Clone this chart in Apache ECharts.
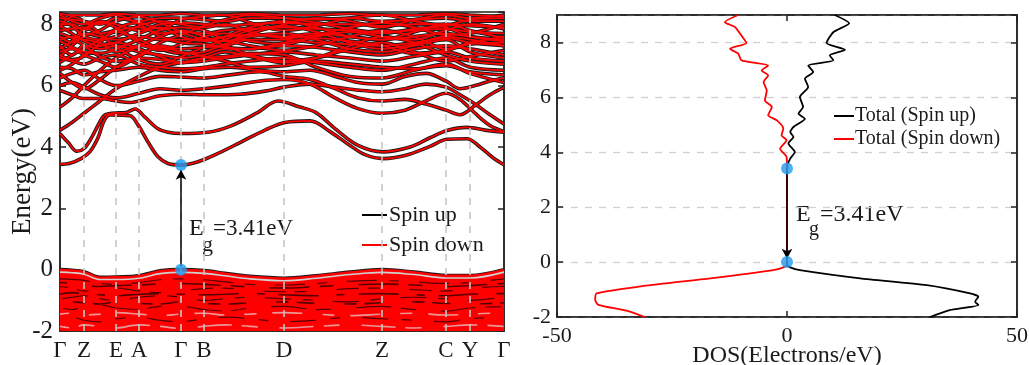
<!DOCTYPE html>
<html><head><meta charset="utf-8">
<script src="https://cdn.jsdelivr.net/npm/echarts@6/dist/echarts.min.js"></script>
<style>html,body{margin:0;padding:0;background:#fff}#c{width:1029px;height:365px}</style>
</head><body><div id="c"></div>
<script>
// High-symmetry path (k distance) and labels
const kPos = [0,24,56,79,121,144,224,322,386,410,444];
const kLabels = ['Γ','Z','E','A','Γ','B','D','Z','C','Y','Γ'];
const kGrid = [0,12,24,40,56,79,100,121,144,165,190,224,256,290,322,354,386,410,444];

// Lower conduction bands [k, E]
const bandC1 = [[0,3.43],[10,3.47],[21,3.62],[30,3.85],[38,4.3],[44,4.85],[50,5.04],[70,5.02],[78,4.72],[88,4.16],[98,3.68],[108,3.46],[121,3.41],[138,3.52],[158,3.79],[181,4.16],[205,4.55],[225,4.8],[250,4.85],[270,4.5],[290,4.05],[305,3.75],[323,3.62],[345,3.72],[370,4.02],[387,4.25],[407,4.27],[420,4.0],[433,3.65],[444,3.42]];
const bandC2 = [[0,4.43],[8,4.15],[17,3.86],[24,3.95],[31,4.27],[38,4.7],[44,5.02],[52,5.1],[66,5.12],[75,5.24],[85,4.97],[98,4.59],[108,4.48],[121,4.44],[148,4.48],[171,4.69],[198,5.13],[218,5.5],[240,5.3],[256,5.12],[275,4.6],[298,4.05],[323,3.84],[350,4.0],[370,4.3],[387,4.54],[407,4.64],[425,4.55],[444,4.48]];
const bandC3 = [[0,5.84],[12,5.7],[23,5.58],[40,5.58],[56,5.5],[70,5.45],[85,5.55],[100,5.67],[121,5.72],[150,5.7],[180,5.72],[205,5.82],[224,5.95],[250,6.05],[275,5.95],[300,5.85],[322,5.8],[345,5.9],[366,6.05],[386,5.95],[400,5.7],[415,5.4],[430,5.05],[444,4.75]];
const bandC4 = [[0,6.0],[12,6.1],[24,5.95],[40,5.7],[56,5.6],[79,5.75],[100,5.9],[121,5.85],[144,5.9],[170,6.0],[200,6.15],[224,6.2],[250,6.05],[275,5.6],[298,5.25],[322,5.1],[345,5.2],[366,5.5],[386,5.75],[400,5.55],[415,5.1],[430,4.7],[444,4.5]];
const bandC5 = [[0,6.25],[12,6.4],[24,6.5],[40,6.2],[56,6.0],[79,6.15],[100,6.3],[121,6.28],[144,6.25],[170,6.35],[200,6.45],[224,6.3],[250,6.2],[275,5.9],[298,5.6],[322,5.5],[345,5.55],[366,5.4],[386,5.2],[400,5.05],[415,5.35],[430,5.7],[444,5.94]];
const bandC6 = [[0,6.6],[12,6.55],[24,6.35],[40,6.45],[56,6.5],[79,6.6],[100,6.5],[121,6.45],[144,6.55],[170,6.6],[200,6.5],[224,6.45],[250,6.5],[275,6.3],[298,6.1],[322,6.05],[345,6.3],[366,6.4],[386,6.15],[400,5.9],[415,6.0],[430,6.15],[444,6.25]];

// Upper conduction bands, energies on kGrid
const bandD1 = [6.9,6.8,6.7,6.9,7.0,6.7,6.6,6.55,6.6,6.7,6.8,6.9,6.75,6.6,6.5,6.7,6.9,6.6,6.5];
const bandD2 = [7.1,7.2,7.0,6.8,6.6,6.9,6.85,6.75,6.8,6.9,7.0,7.1,7.0,6.9,6.8,6.95,7.1,6.9,6.8];
const bandD3 = [7.3,7.0,7.3,7.2,7.3,7.1,7.0,6.9,7.0,7.2,7.2,7.3,7.25,7.1,7.0,7.2,7.3,7.2,7.0];
const bandD4 = [7.5,7.6,7.5,7.4,7.1,7.3,7.3,7.2,7.25,7.3,7.5,7.5,7.4,7.35,7.3,7.4,7.55,7.4,7.3];
const bandD5 = [7.6,7.4,7.7,7.6,7.5,7.6,7.5,7.5,7.5,7.6,7.65,7.6,7.7,7.6,7.5,7.6,7.7,7.6,7.5];
const bandD6 = [7.8,7.85,7.9,7.7,7.8,7.9,7.7,7.75,7.7,7.8,7.85,7.9,7.85,7.8,7.75,7.8,7.85,7.75,7.7];
const bandD7 = [8.0,8.0,7.8,8.1,8.0,7.8,8.0,8.05,8.0,7.95,8.0,8.05,8.0,8.0,7.95,8.0,8.0,7.95,7.9];
const bandD8 = [8.2,8.15,8.1,8.0,8.2,8.1,8.2,8.2,8.15,8.1,8.2,8.2,8.15,8.2,8.1,8.15,8.2,8.1,8.1];
const bandD9 = [8.35,8.3,8.3,8.3,8.35,8.3,8.3,8.35,8.3,8.3,8.35,8.3,8.3,8.35,8.3,8.3,8.35,8.3,8.25];
const bandD10 = [6.75,7.0,7.2,7.5,7.75,7.5,7.2,7.05,7.1,7.35,7.6,7.7,7.5,7.2,7.1,7.3,7.5,7.1,6.9];
const bandD11 = [7.45,7.25,7.1,7.05,7.2,7.5,7.8,7.9,7.8,7.5,7.3,7.15,7.3,7.6,7.8,7.6,7.2,7.4,7.6];
const bandD12 = [7.95,7.7,7.45,7.3,7.4,7.7,7.9,7.6,7.45,7.6,7.9,8.1,7.9,7.6,7.5,7.75,8.0,7.8,7.55];
const bandD13 = [6.5,6.7,7.0,7.3,7.4,7.2,6.95,6.75,6.9,7.1,6.95,6.75,6.9,7.3,7.6,7.4,7.0,6.8,6.7];
const bandD14 = [8.1,7.95,7.6,7.5,7.6,7.95,8.1,8.0,7.9,8.0,7.75,7.55,7.65,7.9,8.05,7.9,7.65,7.7,8.0];
const bandD15 = [7.2,7.45,7.85,8.05,7.9,7.4,7.15,7.35,7.6,7.7,7.45,7.35,7.6,7.75,7.6,7.5,7.8,8.0,7.85];
const bandD16 = [6.95,7.3,7.6,7.8,8.1,8.25,8.05,7.75,7.5,7.45,7.7,8.0,8.2,8.1,7.9,8.15,8.3,8.2,8.3];
const bandD17 = [8.3,8.1,8.0,8.2,8.3,8.0,7.6,7.4,7.35,7.25,7.2,7.4,7.55,7.45,7.3,7.05,7.15,7.35,7.4];
const bandD18 = [7.7,7.55,7.3,6.95,6.8,6.95,7.4,7.65,7.95,8.15,8.3,8.2,8.05,7.85,7.7,7.85,7.95,8.15,8.2];
const bandD19 = [5.3,5.6,6.0,6.5,6.9,7.3,7.6,7.8,7.6,7.3,7.0,6.8,6.9,7.2,7.4,7.1,6.8,6.95,7.15];
const bandD20 = [6.4,6.1,5.9,6.2,6.6,7.0,7.25,7.1,6.95,6.8,6.6,6.65,6.8,6.7,6.6,6.55,6.65,6.45,6.35];
const bandD21 = [7.9,8.25,8.1,7.7,7.25,6.85,6.7,6.95,7.25,7.5,7.8,7.95,7.75,7.4,7.2,7.35,7.6,7.5,7.3];
const bandD22 = [7.0,6.85,6.95,7.4,7.85,8.05,7.85,8.15,8.25,8.3,8.05,7.8,7.95,8.2,8.3,8.1,7.9,7.6,7.45];
const bandD23 = [4.55,4.8,5.1,5.5,5.9,6.3,6.6,6.75,6.9,6.95,7.05,7.0,6.6,6.3,6.25,6.5,6.7,6.4,6.1];

// Valence bands on kGrid
const vbTop = [0.0,-0.02,-0.07,-0.25,-0.24,-0.2,-0.04,0.0,-0.03,-0.12,-0.22,-0.28,-0.2,-0.08,0.0,-0.08,-0.19,-0.19,0.0];
const vb2 = [-0.08,-0.1,-0.15,-0.32,-0.32,-0.28,-0.13,-0.09,-0.12,-0.2,-0.3,-0.36,-0.28,-0.16,-0.09,-0.16,-0.27,-0.27,-0.08];
const vb3 = [-0.3,-0.32,-0.35,-0.45,-0.48,-0.42,-0.33,-0.3,-0.33,-0.4,-0.48,-0.5,-0.45,-0.38,-0.35,-0.4,-0.45,-0.42,-0.3];
const vb4 = [-0.55,-0.6,-0.7,-0.65,-0.6,-0.7,-0.75,-0.7,-0.62,-0.6,-0.68,-0.72,-0.7,-0.62,-0.6,-0.65,-0.7,-0.6,-0.55];
const vb5 = [-0.95,-0.9,-0.85,-0.95,-1.0,-0.9,-0.85,-0.9,-1.0,-0.95,-0.9,-0.95,-1.0,-1.05,-0.95,-0.9,-0.95,-1.0,-0.9];
const vb6 = [-1.25,-1.3,-1.2,-1.15,-1.25,-1.3,-1.2,-1.2,-1.3,-1.35,-1.25,-1.2,-1.3,-1.25,-1.2,-1.3,-1.35,-1.25,-1.2];
const vb7 = [-1.6,-1.55,-1.65,-1.7,-1.6,-1.55,-1.65,-1.7,-1.6,-1.55,-1.6,-1.7,-1.65,-1.55,-1.6,-1.65,-1.7,-1.6,-1.55];
const vb8 = [-1.85,-1.9,-1.8,-1.85,-1.9,-1.8,-1.85,-1.92,-1.85,-1.8,-1.85,-1.9,-1.85,-1.8,-1.85,-1.9,-1.85,-1.8,-1.85];
const vb9 = [-0.42,-0.45,-0.5,-0.55,-0.52,-0.5,-0.47,-0.45,-0.48,-0.52,-0.56,-0.6,-0.55,-0.5,-0.47,-0.5,-0.55,-0.52,-0.45];
const vb10 = [-0.8,-0.75,-0.78,-0.82,-0.85,-0.8,-0.78,-0.8,-0.82,-0.8,-0.78,-0.82,-0.85,-0.8,-0.78,-0.82,-0.85,-0.8,-0.78];
const vb11 = [-1.1,-1.05,-1.08,-1.12,-1.05,-1.1,-1.12,-1.05,-1.1,-1.12,-1.08,-1.05,-1.1,-1.12,-1.08,-1.05,-1.1,-1.12,-1.08];
const vb12 = [-1.45,-1.42,-1.48,-1.45,-1.4,-1.45,-1.5,-1.45,-1.42,-1.48,-1.45,-1.4,-1.45,-1.5,-1.45,-1.42,-1.48,-1.45,-1.4];

// DOS (energy, states/eV)
const dosUpE = [-2.0,-1.75,-1.56,-1.44,-1.26,-1.14,-0.84,-0.59,-0.29,-0.19,-0.1,3.47,3.77,4.01,4.32,4.56,4.74,4.92,5.22,5.41,5.65,6.01,6.38,6.68,6.92,7.16,7.35,7.53,7.73,7.98,8.38,8.70,9.0];
const dosUpV = [31.1,35.4,41.6,40.9,41.6,39.8,30.4,15.9,2.8,0.7,0,0,0.7,1.7,0.3,1.4,0.7,1.4,3.9,2.5,3.5,2.8,4.6,3.9,5.7,4.6,10.1,9.3,12.6,8.6,10.1,13.5,10.4];
const dosDnE = [-2.0,-1.77,-1.56,-1.38,-1.14,-0.87,-0.59,-0.29,-0.19,-0.1,3.47,3.83,4.13,4.44,4.62,4.86,5.16,5.35,5.65,5.89,6.25,6.56,6.80,6.98,7.16,7.35,7.59,7.77,7.98,8.25,8.56,8.74,9.0];
const dosDnV = [-30.9,-34.9,-41.0,-41.7,-41.4,-31.2,-16.7,-3.0,-0.8,0,0,-0.1,-1.5,-0.1,-1.2,-0.8,-2.2,-4.1,-3.3,-4.8,-4.4,-5.1,-4.1,-5.5,-4.1,-9.9,-10.6,-12.4,-8.8,-9.9,-11.3,-13.5,-10.6];

const gapVBM = 0.0, gapCBM = 3.41, gapK = 121;

const FONT = 'Liberation Serif';
const chart = echarts.init(document.getElementById('c'));

const lowBands = [bandC1,bandC2,bandC3,bandC4,bandC5,bandC6];
const gridBands = [bandD1,bandD2,bandD3,bandD4,bandD5,bandD6,bandD7,bandD8,bandD9,bandD10,bandD11,bandD12,bandD13,bandD14,bandD15,bandD16,bandD17,bandD18,bandD19,bandD20,bandD21,bandD22,bandD23];
const toPairs = v => v.map((e,i)=>[kGrid[i],e]);
const allBands = lowBands.concat(gridBands.map(toPairs));

const series = [];
// dashed vertical separators
series.push({type:'line', xAxisIndex:0, yAxisIndex:0, data:[[0,-10]], symbol:'none', silent:true, z:1,
  markLine:{silent:true, symbol:'none', label:{show:false},
    lineStyle:{color:'#c8c8c8', type:[7,7], width:1.6},
    data: kPos.slice(1,-1).map(v=>({xAxis:v}))}});
// spin up (black, under)
allBands.forEach(b=>series.push({type:'line', name:'Spin up', xAxisIndex:0, yAxisIndex:0, data:b, smooth:0.35,
  symbol:'none', color:'#000', lineStyle:{color:'#1a1a1a', width:3.6}, z:2, silent:true}));
series.push({type:'line', name:'Spin up', xAxisIndex:0, yAxisIndex:0, data:toPairs(vbTop), smooth:0.35,
  symbol:'none', color:'#000', lineStyle:{color:'#1a1a1a', width:3.6}, z:2, silent:true});
// spin down (red, over)
allBands.forEach(b=>series.push({type:'line', name:'Spin down', xAxisIndex:0, yAxisIndex:0, data:b, smooth:0.35,
  symbol:'none', color:'#ff0000', lineStyle:{color:'#ff0000', width:1.8}, z:3, silent:true}));
series.push({type:'line', name:'Spin down', xAxisIndex:0, yAxisIndex:0, data:toPairs(vbTop), smooth:0.35,
  symbol:'none', color:'#ff0000', lineStyle:{color:'#ff0000', width:1.8},
  areaStyle:{color:'#ff0000', opacity:1, origin:'start'}, z:3, silent:true});
// valence streaks (broken dark / light fragments)
series.push({type:'line', xAxisIndex:0, yAxisIndex:0, data:toPairs(vb2), smooth:0.35, symbol:'none',
  lineStyle:{color:'#d0d0d0', width:1.6}, z:4, silent:true});
const darkVB = [vb3,vb9,vb4,vb10,vb5,vb11,vb6,vb12,vb7,vb8];
const dashes = [[30,12,10,20],[14,25,40,10],[22,9,12,30],[40,18,8,14],[10,20,26,12],[18,30,12,8],[35,10,15,25],[12,16,30,20],[26,14,10,22],[16,22,34,10]];
darkVB.forEach((v,i)=>series.push({type:'line', xAxisIndex:0, yAxisIndex:0, data:toPairs(v), smooth:0.35,
  symbol:'none', lineStyle:{color: i===7||i===9 ? '#e8b0b0' : '#3a0000', width: i%2 ? 1.6 : 1.2, opacity:0.85,
  type:dashes[i], dashOffset:i*7}, z:4, silent:true}));
// gap markers left
series.push({type:'scatter', xAxisIndex:0, yAxisIndex:0, data:[[gapK,gapVBM],[gapK,gapCBM]], symbolSize:12,
  itemStyle:{color:'#1e9cf0'}, z:10, silent:true,
  markLine:{silent:true, symbol:['none','arrow'], symbolSize:[8,10], label:{show:false},
    lineStyle:{color:'#000', type:'solid', width:1.5},
    data:[[{coord:[gapK,gapVBM+0.1]},{coord:[gapK,gapCBM-0.15]}]]}});

// DOS
series.push({type:'line', name:'Total (Spin up)', xAxisIndex:1, yAxisIndex:2,
  data:dosUpE.map((e,i)=>[dosUpV[i],e]), smooth:0.2, symbol:'none', color:'#000',
  lineStyle:{color:'#000', width:1.8}, z:3, silent:true});
series.push({type:'line', name:'Total (Spin down)', xAxisIndex:1, yAxisIndex:2,
  data:dosDnE.map((e,i)=>[dosDnV[i],e]), smooth:0.2, symbol:'none', color:'#ff0000',
  lineStyle:{color:'#ff0000', width:1.8}, z:3, silent:true});
series.push({type:'scatter', xAxisIndex:1, yAxisIndex:2, data:[[0,gapVBM],[0,gapCBM]], symbolSize:12,
  itemStyle:{color:'#1e9cf0'}, z:10, silent:true,
  markLine:{silent:true, symbol:['none','arrow'], symbolSize:[8,10], label:{show:false},
    lineStyle:{color:'#000', type:'solid', width:1.5},
    data:[[{coord:[0,gapCBM-0.1]},{coord:[0,gapVBM+0.12]}]]}});

const lbl = (size, extra) => Object.assign({color:'#1a1a1a', fontFamily:FONT, fontSize:size}, extra||{});
const line = {show:true, onZero:false, lineStyle:{color:'#222', width:1.5}};
const tick = {inside:true, length:6, lineStyle:{color:'#222', width:1.5}};

chart.setOption({
  animation:false,
  grid:[
    {left:60, top:12, width:444, height:319, show:true, borderColor:'#222', borderWidth:1.5, backgroundColor:'transparent', outerBoundsMode:'none', containLabel:false},
    {left:557, top:15, width:460, height:302, show:true, borderColor:'#222', borderWidth:1.5, backgroundColor:'transparent', outerBoundsMode:'none', containLabel:false}
  ],
  xAxis:[
    {gridIndex:0, type:'value', min:0, max:444, axisLine:line, axisTick:{show:false}, splitLine:{show:false},
      axisLabel:Object.assign(lbl(23), {customValues:kPos, hideOverlap:false, margin:8,
        formatter:v=>kLabels[kPos.indexOf(v)]})},
    {gridIndex:1, type:'value', min:-50, max:50, interval:50, axisLine:line, axisTick:tick, splitLine:{show:false},
      axisLabel:lbl(22, {margin:8}),
      name:'DOS(Electrons/eV)', nameLocation:'middle', nameGap:27, nameMoveOverlap:false, nameTextStyle:lbl(24)},
    {gridIndex:1, type:'value', position:'top', min:-50, max:50, interval:50, axisLine:line, axisTick:tick,
      axisLabel:{show:false}, splitLine:{show:false}}
  ],
  yAxis:[
    {gridIndex:0, type:'value', min:-2, max:8.4, interval:2, axisLine:line, axisTick:tick, splitLine:{show:false},
      axisLabel:lbl(25, {margin:7, showMaxLabel:false}),
      name:'Energy(eV)', nameLocation:'middle', nameGap:24, nameMoveOverlap:false, nameRotate:90, nameTextStyle:lbl(27)},
    {gridIndex:0, type:'value', position:'right', min:-2, max:8.4, interval:2, axisLine:line, axisTick:tick,
      axisLabel:{show:false}, splitLine:{show:false}},
    {gridIndex:1, type:'value', min:-2, max:9, interval:2, axisLine:line, axisTick:tick,
      splitLine:{show:true, lineStyle:{color:'#d0d0d0', type:[7,7], width:1.3}},
      axisLabel:lbl(22, {margin:6, showMaxLabel:false})},
    {gridIndex:1, type:'value', position:'right', min:-2, max:9, interval:2, axisLine:line, axisTick:tick,
      axisLabel:{show:false}, splitLine:{show:false}}
  ],
  legend:[
    {data:['Spin up','Spin down'], orient:'vertical', left:357, top:199, itemGap:8, itemWidth:25, itemHeight:2,
      icon:'rect', textStyle:lbl(22, {padding:[0,0,0,-3]}), selectedMode:false},
    {data:['Total (Spin up)','Total (Spin down)'], orient:'vertical', left:829, top:101, itemGap:3, itemWidth:20, itemHeight:2,
      icon:'rect', textStyle:lbl(20, {padding:[0,0,0,-4]}), selectedMode:false}
  ],
  graphic:[
    {type:'text', left:189, top:217, style:{text:'E', font:'24px "Liberation Serif"', fill:'#1a1a1a'}},
    {type:'text', left:202, top:234, style:{text:'g', font:'22px "Liberation Serif"', fill:'#1a1a1a'}},
    {type:'text', left:213, top:217, style:{text:'=3.41eV', font:'23px "Liberation Serif"', fill:'#1a1a1a'}},
    {type:'text', left:796, top:203, style:{text:'E', font:'24px "Liberation Serif"', fill:'#1a1a1a'}},
    {type:'text', left:809, top:220, style:{text:'g', font:'20px "Liberation Serif"', fill:'#1a1a1a'}},
    {type:'text', left:820, top:203, style:{text:'=3.41eV', font:'24px "Liberation Serif"', fill:'#1a1a1a'}}
  ],
  series:series
});
</script></body></html>
